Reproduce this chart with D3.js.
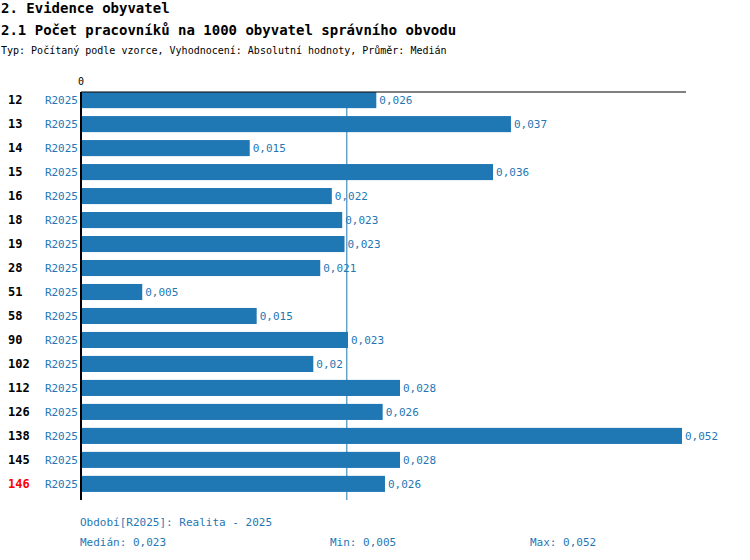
<!DOCTYPE html>
<html><head><meta charset="utf-8">
<script src="https://cdn.jsdelivr.net/npm/d3@7"></script>
<style>body{margin:0;background:#fff}text{font-family:"DejaVu Sans Mono",monospace}</style>
</head><body><svg id="c" width="750" height="560"></svg>
<script>
// data
var ids = ["12","13","14","15","16","18","19","28","51","58","90","102","112","126","138","145","146"];
var period = "R2025";
var values = [0.02555,0.0372,0.0146,0.03565,0.0217,0.0226,0.0228,0.0207,0.0053,0.0152,0.0231,0.0201,0.0276,0.0261,0.052,0.0276,0.0263];
var highlight = "146";
var median = 0.023, minV = 0.005, maxV = 0.052;

var blue = "#1f77b4";
var svg = d3.select("#c");
var fmt = v => (+v.toFixed(3)).toString().replace(".", ",");

svg.append("text").attr("x",1).attr("y",13).attr("font-size",14).attr("font-weight","bold").text("2. Evidence obyvatel");
svg.append("text").attr("x",1).attr("y",35).attr("font-size",14).attr("font-weight","bold").text("2.1 Počet pracovníků na 1000 obyvatel správního obvodu");
svg.append("text").attr("x",1).attr("y",54).attr("font-size",10).text("Typ: Počítaný podle vzorce, Vyhodnocení: Absolutní hodnoty, Průměr: Medián");

var x = d3.scaleLinear().domain([0, maxV]).range([81, 682]);
var y = d3.scaleBand().domain(ids).range([88, 496]).paddingInner(0.33).paddingOuter(0.17);

// median line
svg.append("line").attr("x1",x(median)).attr("x2",x(median)).attr("y1",92).attr("y2",500).attr("stroke",blue).attr("stroke-width",1);

svg.selectAll("rect.bar").data(ids).join("rect").attr("class","bar")
  .attr("x",x(0)).attr("y",d=>y(d)).attr("height",y.bandwidth())
  .attr("width",(d,i)=>x(values[i])-x(0)).attr("fill",blue);

svg.selectAll("text.val").data(ids).join("text").attr("class","val")
  .attr("x",(d,i)=>x(values[i])+3).attr("y",d=>y(d)+y.bandwidth()/2+4)
  .attr("font-size",11).attr("fill",blue).text((d,i)=>fmt(values[i]));

svg.selectAll("text.id").data(ids).join("text").attr("class","id")
  .attr("x",8).attr("y",d=>y(d)+y.bandwidth()/2+4).attr("font-size",12).attr("font-weight","bold")
  .attr("fill",d=>d===highlight?"#f00":"#000").text(d=>d);

svg.selectAll("text.per").data(ids).join("text").attr("class","per")
  .attr("x",78).attr("y",d=>y(d)+y.bandwidth()/2+4).attr("text-anchor","end")
  .attr("font-size",11).attr("fill",blue).text(period);

// axes
svg.append("line").attr("x1",81).attr("x2",686).attr("y1",92).attr("y2",92).attr("stroke","#000");
svg.append("line").attr("x1",81).attr("x2",81).attr("y1",92).attr("y2",500).attr("stroke","#000").attr("stroke-width",2);
svg.append("text").attr("x",x(0)).attr("y",85).attr("text-anchor","middle").attr("font-size",10).text("0");

svg.append("text").attr("x",80).attr("y",526).attr("font-size",11).attr("fill",blue).text("Období[R2025]: Realita - 2025");
svg.append("text").attr("x",80).attr("y",546).attr("font-size",11).attr("fill",blue).text("Medián: " + fmt(median));
svg.append("text").attr("x",330).attr("y",546).attr("font-size",11).attr("fill",blue).text("Min: " + fmt(minV));
svg.append("text").attr("x",530).attr("y",546).attr("font-size",11).attr("fill",blue).text("Max: " + fmt(maxV));
</script></body></html>
